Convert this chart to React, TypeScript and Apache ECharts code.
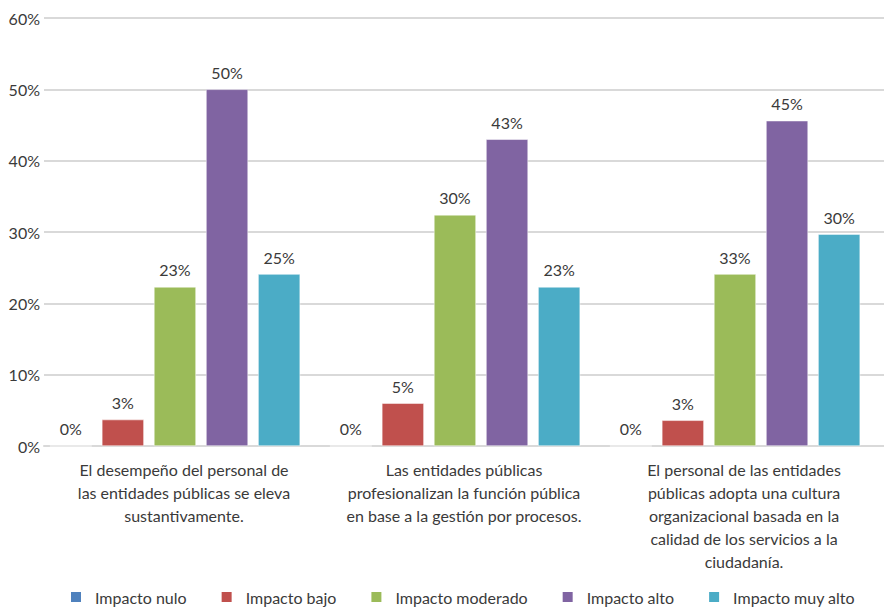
import React, { useEffect, useRef } from "react";
import * as echarts from "echarts";

const categories = [
  "El desempeño del personal de\nlas entidades públicas se eleva\nsustantivamente.",
  "Las entidades públicas\nprofesionalizan la función pública\nen base a la gestión por procesos.",
  "El personal de las entidades\npúblicas adopta una cultura\norganizacional basada en la\ncalidad de los servicios a la\nciudadanía.",
];
const seriesNames = ["Impacto nulo", "Impacto bajo", "Impacto moderado", "Impacto alto", "Impacto muy alto"];
const impactoNulo = [0, 0, 0];
const impactoBajo = [3.7, 6.0, 3.6];
const impactoModerado = [22.3, 32.4, 24.1];
const impactoAlto = [50.0, 43.0, 45.6];
const impactoMuyAlto = [24.1, 22.3, 29.7];
const labelsNulo = ["0%", "0%", "0%"];
const labelsBajo = ["3%", "5%", "3%"];
const labelsModerado = ["23%", "30%", "33%"];
const labelsAlto = ["50%", "43%", "45%"];
const labelsMuyAlto = ["25%", "23%", "30%"];
const yTicks = [0, 10, 20, 30, 40, 50, 60];
const colors = ["#4f81bd", "#c0504d", "#9bbb59", "#8064a2", "#4bacc6"];

const FONT = "Lato, 'Open Sans', sans-serif";
const TEXT = "#3a3a3a";

export default function App() {
  const ref = useRef<HTMLDivElement>(null);
  useEffect(() => {
    if (!ref.current) return;
    const chart = echarts.init(ref.current, undefined, { renderer: "svg" });
    const values = [impactoNulo, impactoBajo, impactoModerado, impactoAlto, impactoMuyAlto];
    const labels = [labelsNulo, labelsBajo, labelsModerado, labelsAlto, labelsMuyAlto];
    const barSeries = seriesNames.map((name, i) => ({
      name,
      type: "bar",
      data: values[i],
      barWidth: 42,
      barGap: "24%",
      itemStyle: { color: colors[i], borderColor: "#ffffff", borderWidth: 0.5 },
      label: {
        show: true,
        position: "top",
        distance: 9,
        fontSize: 16,
        color: TEXT,
        fontFamily: FONT,
        formatter: (p: any) => labels[i][p.dataIndex],
      },
    }));
    // narrow empty spacer column: shifts each cluster slightly left as in the source layout
    const spacer = {
      name: "spacer",
      type: "bar",
      data: [null, null, null],
      barWidth: 8,
      silent: true,
      itemStyle: { color: "transparent" },
      label: { show: false },
    };
    chart.setOption({
      animation: false,
      color: colors,
      textStyle: { fontFamily: FONT },
      grid: { left: 44, right: 0, top: 18, bottom: 168 },
      legend: {
        bottom: 4,
        left: 64,
        itemWidth: 12,
        itemHeight: 12,
        itemGap: 33,
        icon: "rect",
        textStyle: { fontSize: 16, color: TEXT, fontFamily: FONT, padding: [0, 0, 0, 8] },
        data: seriesNames,
      },
      xAxis: {
        type: "category",
        data: categories,
        axisLine: { show: true, lineStyle: { color: "#d9d9d9", width: 2 } },
        axisTick: { show: false },
        axisLabel: {
          interval: 0,
          margin: 12,
          fontSize: 16,
          lineHeight: 23,
          color: TEXT,
          fontFamily: FONT,
          align: "center",
        },
      },
      yAxis: {
        type: "value",
        min: yTicks[0],
        max: yTicks[yTicks.length - 1],
        interval: 10,
        axisLine: { show: false },
        axisTick: { show: false },
        splitLine: { lineStyle: { color: "#d9d9d9", width: 2 } },
        axisLabel: {
          margin: 4,
          fontSize: 16,
          color: TEXT,
          fontFamily: FONT,
          formatter: (v: number) => v + "%",
        },
      },
      series: [...barSeries, spacer],
    });
    return () => chart.dispose();
  }, []);
  return (
    <div
      ref={ref}
      style={{ position: "fixed", left: 0, top: 0, width: 884, height: 614, background: "#ffffff" }}
    />
  );
}
